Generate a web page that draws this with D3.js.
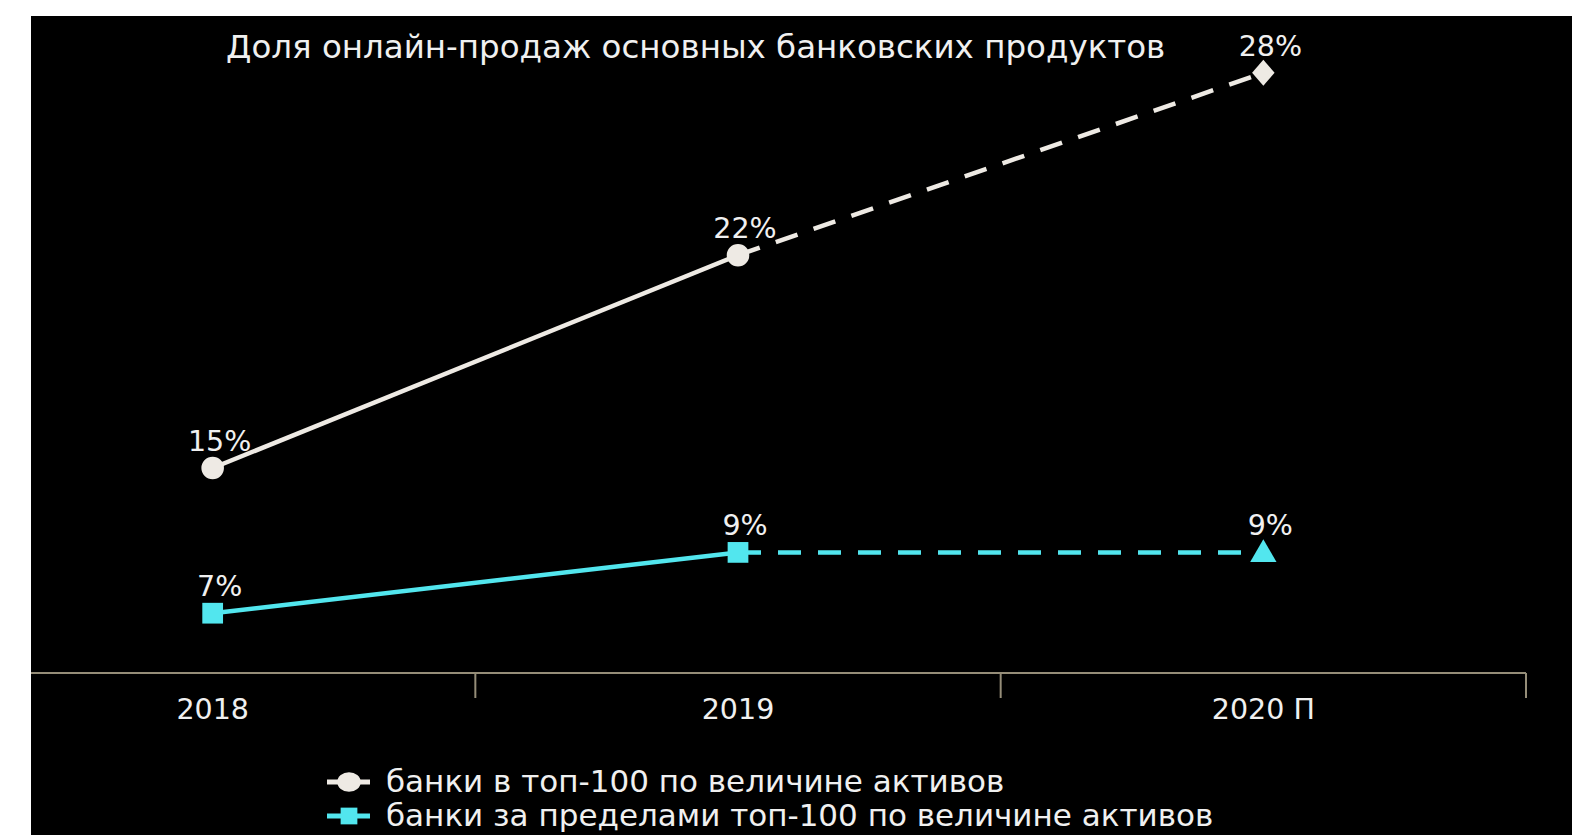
<!DOCTYPE html>
<html>
<head>
<meta charset="utf-8">
<script src="https://cdn.jsdelivr.net/npm/d3@7"></script>
<style>
  html, body { margin: 0; padding: 0; background: #ffffff; }
  svg { display: block; }
  text { font-family: "DejaVu Sans", Verdana, sans-serif; fill: #f0f0f0; }
</style>
</head>
<body>
<svg id="chart" width="1572" height="835"></svg>
<script>
// Share of online sales of core banking products
const title = "Доля онлайн-продаж основных банковских продуктов";
const years = ["2018", "2019", "2020 П"];
const top100 = [15, 22, 28];          // banks in the top-100 by assets
const outside100 = [7, 9, 9];         // banks outside the top-100
const seriesNames = [
  "банки в топ-100 по величине активов",
  "банки за пределами топ-100 по величине активов"
];
const forecastFrom = 1;               // index where the forecast (dashed) part begins

const W = 1572, H = 835;
const svg = d3.select("#chart");

// dark panel
svg.append("rect").attr("x", 31).attr("y", 16).attr("width", W - 31).attr("height", H - 16).attr("fill", "#000");

const x = d3.scaleBand().domain(years).range([-50, 1526]);
const cx = d => x(d) + x.bandwidth() / 2;

// two value axes sharing the same unit size, offset vertically
const yTop = d3.scaleLinear().domain([0, 30]).range([924, 12]);
const yOut = d3.scaleLinear().domain([0, 30]).range([826, -86]);

const axisY = 673;
const axisColor = "#958d78";

// category axis: labels centred under each band, ticks on band edges
const axisG = svg.append("g").attr("transform", `translate(0,${axisY})`)
  .call(d3.axisBottom(x).tickSize(0).tickPadding(26));
axisG.select(".domain").remove();
axisG.selectAll("text").attr("font-size", 28.5).attr("fill", "#f0f0f0")
  .style("font-family", "DejaVu Sans");
svg.append("line").attr("x1", 31).attr("x2", x(years[years.length - 1]) + x.bandwidth())
  .attr("y1", axisY).attr("y2", axisY).attr("stroke", axisColor).attr("stroke-width", 2);
svg.selectAll(".btick").data(years).join("line").attr("class", "btick")
  .attr("x1", d => x(d) + x.bandwidth()).attr("x2", d => x(d) + x.bandwidth())
  .attr("y1", axisY).attr("y2", axisY + 25).attr("stroke", axisColor).attr("stroke-width", 2);

// title
svg.append("text").attr("x", 226).attr("y", 58).attr("font-size", 32.5).text(title);

const series = [
  { vals: top100, y: yTop, color: "#eeeae4", markers: ["circle", "circle", "diamond"] },
  { vals: outside100, y: yOut, color: "#52e6ee", markers: ["square", "square", "triangle"] }
];

const symbolSize = { circle: 400, square: 430, diamond: 240, triangle: 300 };
const symbolType = { circle: d3.symbolCircle, square: d3.symbolSquare, diamond: d3.symbolDiamond, triangle: d3.symbolTriangle };

series.forEach(s => {
  const pts = s.vals.map((v, i) => [cx(years[i]), s.y(v), v, i]);
  const line = d3.line();
  // actual part
  svg.append("path").attr("d", line(pts.slice(0, forecastFrom + 1).map(p => [p[0], p[1]])))
    .attr("fill", "none").attr("stroke", s.color).attr("stroke-width", 4.5);
  // forecast part
  svg.append("path").attr("d", line(pts.slice(forecastFrom).map(p => [p[0], p[1]])))
    .attr("fill", "none").attr("stroke", s.color).attr("stroke-width", 4.5)
    .attr("stroke-dasharray", "23,17");
  // markers
  pts.forEach(p => {
    const m = s.markers[p[3]];
    const g = svg.append("path")
      .attr("d", d3.symbol().type(symbolType[m]).size(symbolSize[m])())
      .attr("fill", s.color);
    if (m === "diamond") g.attr("transform", `translate(${p[0]},${p[1]}) scale(1.35,0.9)`);
    else if (m === "triangle") g.attr("transform", `translate(${p[0]},${p[1] + 2})`);
    else g.attr("transform", `translate(${p[0]},${p[1]})`);
  });
  // value labels
  svg.selectAll(null).data(pts).join("text")
    .attr("x", p => p[0] + 7).attr("y", p => p[1] - 17)
    .attr("text-anchor", "middle").attr("font-size", 28.5)
    .text(p => p[2] + "%");
});

// legend
const legend = svg.append("g");
seriesNames.forEach((name, i) => {
  const s = series[i];
  const ly = 782 + i * 34;
  legend.append("line").attr("x1", 327).attr("x2", 370).attr("y1", ly).attr("y2", ly)
    .attr("stroke", s.color).attr("stroke-width", 5);
  const m = s.markers[0];
  legend.append("path").attr("d", d3.symbol().type(symbolType[m]).size(i === 0 ? 300 : 280)())
    .attr("transform", `translate(349,${ly})` + (i === 0 ? " scale(1.2,1)" : ""))
    .attr("fill", s.color);
  legend.append("text").attr("x", 386).attr("y", ly + 10).attr("font-size", 31).text(name);
});
</script>
</body>
</html>
